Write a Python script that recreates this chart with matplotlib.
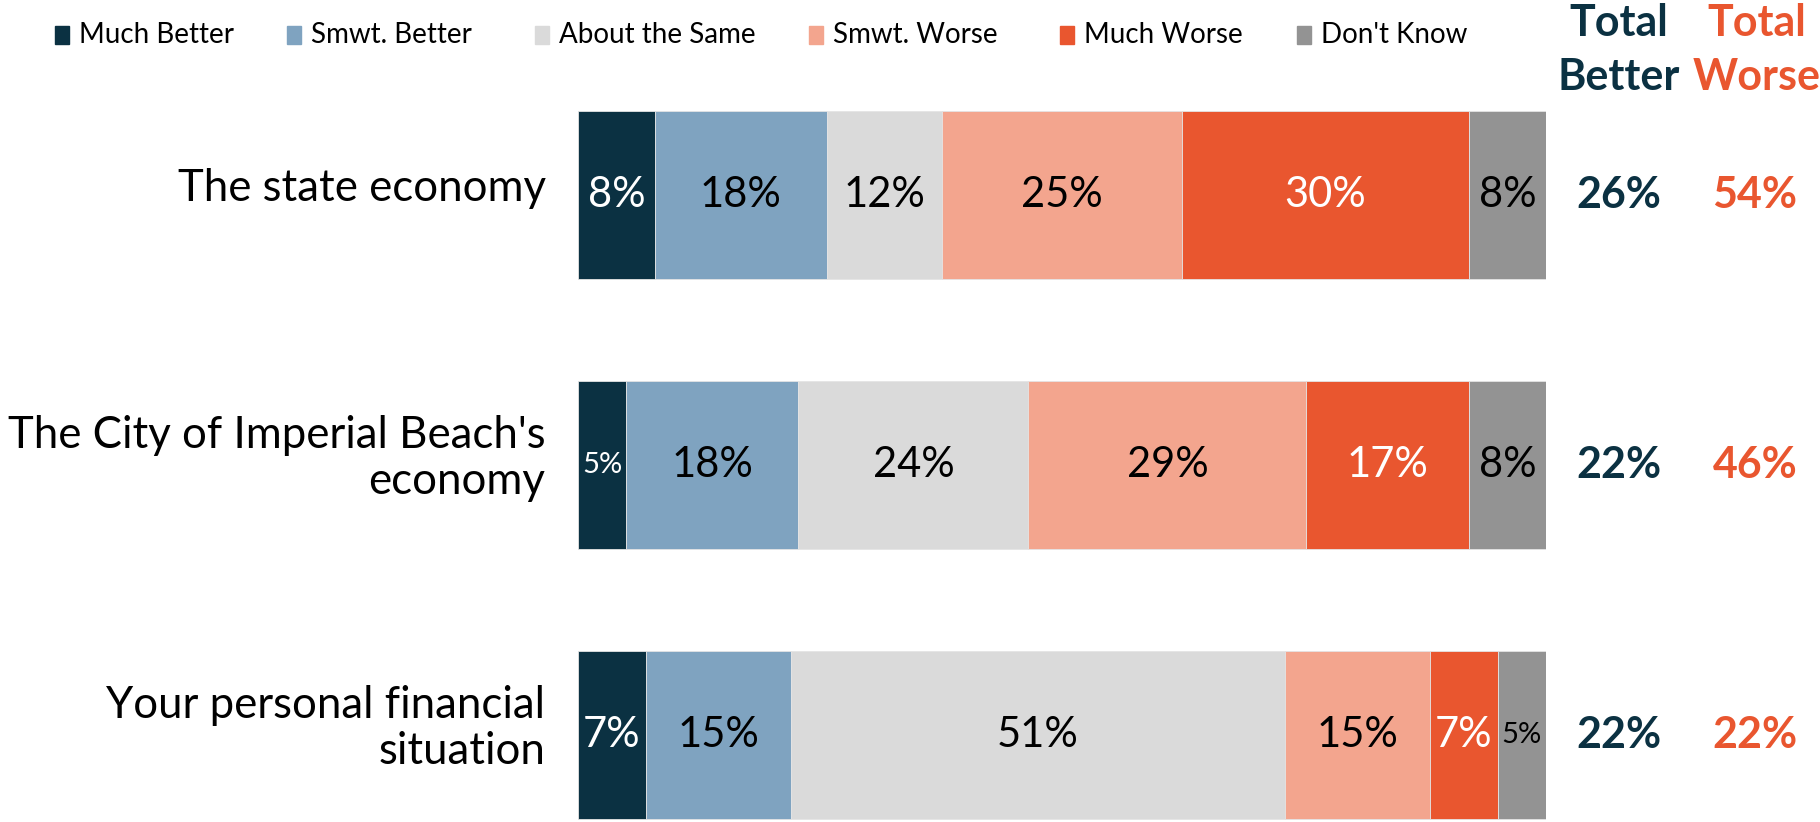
import matplotlib
matplotlib.use("Agg")
import matplotlib.pyplot as plt
from matplotlib.patches import Rectangle
import numpy as np

plt.rcParams['font.family'] = ['Lato', 'DejaVu Sans']

categories = ["The state economy", "The City of Imperial Beach's\neconomy",
              "Your personal financial\nsituation"]
series = ["Much Better", "Smwt. Better", "About the Same", "Smwt. Worse", "Much Worse", "Don't Know"]
much_better = [8, 5, 7]
smwt_better = [18, 18, 15]
about_same = [12, 24, 51]
smwt_worse = [25, 29, 15]
much_worse = [30, 17, 7]
dont_know = [8, 8, 5]
total_better = [26, 22, 22]
total_worse = [54, 46, 22]

colors = ["#0B3142", "#7FA3C0", "#DADADA", "#F3A58E", "#E9562F", "#939393"]
text_colors = ["white", "black", "black", "black", "white", "black"]

W, H = 1820, 822
fig = plt.figure(figsize=(W / 100, H / 100), dpi=100)
ax = fig.add_axes([578 / W, 0, (1546 - 578) / W, 1])
ax.set_xlim(0, 100)
ax.set_ylim((H - 195) / 270, -195 / 270)
ax.axis('off')

data = np.array([much_better, smwt_better, about_same, smwt_worse, much_worse, dont_know], dtype=float)
totals = data.sum(axis=0)
norm = data / totals * 100
left = np.zeros(len(categories))
bar_h = 168 / 270
y = np.arange(len(categories))
for i in range(len(series)):
    ax.barh(y, norm[i], left=left, height=bar_h, color=colors[i],
            edgecolor="#E4E4E4", linewidth=0.6)
    for j in range(len(categories)):
        w = norm[i, j]
        fs = 30 if w >= 6.5 else 21
        ax.text(left[j] + w / 2, y[j], f"{int(data[i, j])}%", ha='center', va='center',
                fontsize=fs, color=text_colors[i])
    left += norm[i]

# category labels
for j, c in enumerate(categories):
    ax.text(-32.5 / 9.68, y[j] - 0.025, c, ha='right', va='center', fontsize=31.5,
            color='black', linespacing=1.15)

# totals
x_tb = (1619 - 578) / 9.68
x_tw = (1755 - 578) / 9.68
for j in range(len(categories)):
    ax.text(x_tb, y[j], f"{total_better[j]}%", ha='center', va='center', fontsize=31,
            fontweight='bold', color=colors[0])
    ax.text(x_tw, y[j], f"{total_worse[j]}%", ha='center', va='center', fontsize=31,
            fontweight='bold', color=colors[4])

fig.text(1619 / W, 1 - 50 / H, "Total\nBetter", ha='center', va='center', fontsize=31,
         fontweight='bold', color=colors[0], linespacing=1.45)
fig.text(1757 / W, 1 - 50 / H, "Total\nWorse", ha='center', va='center', fontsize=31,
         fontweight='bold', color=colors[4], linespacing=1.45)

# legend
sq_x = [55, 287, 535, 809, 1060, 1297]
ly = 35
for i, s in enumerate(series):
    fig.patches.append(Rectangle((sq_x[i] / W, 1 - (ly + 9) / H), 14 / W, 18 / H,
                                 transform=fig.transFigure, color=colors[i]))
    fig.text((sq_x[i] + 24) / W, 1 - ly / H, s, ha='left', va='center', fontsize=20, color='black')

fig.savefig("out.png", dpi=100)
